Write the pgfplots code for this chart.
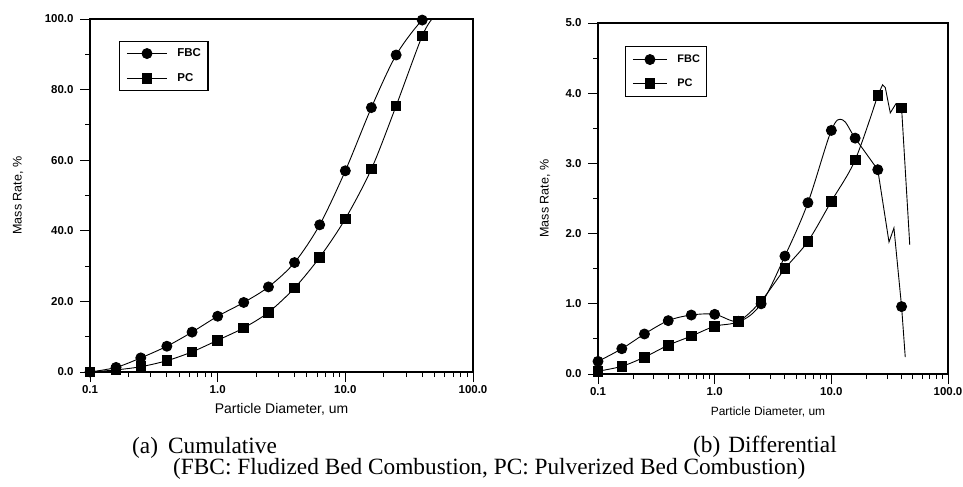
\documentclass[border=0pt]{standalone}
\usepackage{fontspec}
\setmainfont{Liberation Serif}
\setsansfont{Liberation Sans}
\usepackage{pgfplots}
\pgfplotsset{compat=1.18}

% plot styles for the two combustion types
\pgfplotsset{
  fbc/.style={black, line width=0.9bp, mark=*, mark size=5bp,
    mark options={solid, fill=black}},
  pc/.style={black, line width=0.9bp, mark=square*, mark size=4.8bp,
    mark options={solid, fill=black}},
}

\begin{document}
\begin{tikzpicture}[x=1bp, y=1bp]
\path[use as bounding box] (0,0) rectangle (963,-487);

% ---------------- (a) cumulative distribution ----------------
\begin{axis}[
  scale only axis, anchor=south west,
  at={(90bp,-372bp)}, width=383bp, height=353bp,
  xmode=log, log basis x=10, xmin=0.1, xmax=100,
  ymin=0, ymax=100,
  axis line style={line width=1.1bp},
  tick align=outside, xtick pos=left, ytick pos=left,
  major tick length=10bp, minor tick length=5bp,
  every tick/.append style={black, line width=0.9bp},
  xtick={0.1,1,10,100},
  xticklabels={0.1,1.0,10.0,100.0},
  minor xtick={0.2,0.3,0.4,0.5,0.6,0.7,0.8,0.9,2,3,4,5,6,7,8,9,20,30,40,50,60,70,80,90},
  ytick={0,20,40,60,80,100},
  yticklabels={0.0,20.0,40.0,60.0,80.0,100.0},
  minor ytick={10,30,50,70,90},
  ticklabel style={font=\sffamily\bfseries\fontsize{11.5}{13}\selectfont},
  yticklabel style={xshift=-3bp},
  xlabel={Particle Diameter, um},
  ylabel={Mass Rate, \%},
  xlabel style={at={(axis description cs:0.5,0)}, anchor=base, yshift=-41bp,
    font=\sffamily\fontsize{14}{15}\selectfont},
  ylabel style={at={(axis description cs:-0.188,0.5)}, anchor=center,
    font=\sffamily\fontsize{12.6}{14}\selectfont},
  legend cell align=left,
  legend image code/.code={%
    \draw[#1, line width=0.9bp, mark indices={2}]
      plot coordinates {(0bp,0bp) (20bp,0bp) (40bp,0bp)};},
  legend style={at={(axis description cs:0.0757,0.9377)}, anchor=north west,
    draw=black, line width=1.1bp, fill=white,
    font=\sffamily\bfseries\fontsize{11.5}{12}\selectfont,
    inner xsep=7bp, inner ysep=7bp, row sep=15bp, column sep=10bp,
    nodes={inner sep=0bp}},
]
\addplot[fbc, smooth, tension=0.5,
  mark indices={1,2,3,4,5,6,7,8,9,10,11,12,13,14}] coordinates {
  (0.1,0) (0.16,1.3) (0.25,4.0) (0.4,7.3) (0.63,11.3) (1.0,15.8)
  (1.6,19.7) (2.5,24.1) (4.0,31.0) (6.3,41.7) (10,57.0) (16,74.9)
  (25,89.8) (40,99.7) (49,100.5)};
\addlegendentry{FBC}
\addplot[pc, smooth, tension=0.5,
  mark indices={1,2,3,4,5,6,7,8,9,10,11,12,13,14}] coordinates {
  (0.1,0) (0.16,0.6) (0.25,1.5) (0.4,3.2) (0.63,5.7) (1.0,9.0)
  (1.6,12.5) (2.5,16.9) (4.0,23.8) (6.3,32.5) (10,43.4) (16,57.5)
  (25,75.4) (40,95.2) (49,100.5)};
\addlegendentry{PC}
\end{axis}

% ---------------- (b) differential distribution ----------------
\begin{axis}[
  scale only axis, anchor=south west,
  at={(598bp,-374bp)}, width=350bp, height=351bp,
  xmode=log, log basis x=10, xmin=0.1, xmax=100,
  ymin=0, ymax=5,
  axis line style={line width=1.1bp},
  tick align=outside, xtick pos=left, ytick pos=left,
  major tick length=10bp, minor tick length=5bp,
  every tick/.append style={black, line width=0.9bp},
  xtick={0.1,1,10,100},
  xticklabels={0.1,1.0,10.0,100.0},
  minor xtick={0.2,0.3,0.4,0.5,0.6,0.7,0.8,0.9,2,3,4,5,6,7,8,9,20,30,40,50,60,70,80,90},
  ytick={0,1,2,3,4,5},
  yticklabels={0.0,1.0,2.0,3.0,4.0,5.0},
  minor ytick={0.5,1.5,2.5,3.5,4.5},
  ticklabel style={font=\sffamily\bfseries\fontsize{11.5}{13}\selectfont},
  yticklabel style={xshift=-3bp},
  xlabel={Particle Diameter, um},
  ylabel={Mass Rate, \%},
  xlabel style={at={(axis description cs:0.5,0)}, anchor=base, yshift=-41bp,
    xshift=-5bp, font=\sffamily\fontsize{12}{14}\selectfont},
  ylabel style={at={(axis description cs:-0.1514,0.5)}, anchor=center,
    font=\sffamily\fontsize{12.6}{14}\selectfont},
  legend cell align=left,
  legend image code/.code={%
    \draw[#1, line width=0.9bp, mark indices={2}]
      plot coordinates {(0bp,0bp) (17bp,0bp) (34bp,0bp)};},
  legend style={at={(axis description cs:0.077,0.9345)}, anchor=north west,
    draw=black, line width=1.1bp, fill=white,
    font=\sffamily\bfseries\fontsize{11}{12}\selectfont,
    inner xsep=7bp, inner ysep=8bp, row sep=14bp, column sep=10bp,
    nodes={inner sep=0bp}},
]
% the spline of the FBC curve rises to a crest near 12.5 um
\addplot[fbc, smooth, tension=0.55,
  mark indices={1,2,3,4,5,6,7,8,9,10,11,13,14}] coordinates {
  (0.1,0.18) (0.16,0.36) (0.25,0.57) (0.4,0.76) (0.63,0.84) (1.0,0.85)
  (1.6,0.75) (2.5,1.00) (4.0,1.68) (6.3,2.44) (10,3.47) (12.5,3.62)
  (16,3.36) (25,2.91)};
\addlegendentry{FBC}
\addplot[pc, smooth, tension=0.55] coordinates {
  (0.1,0.04) (0.16,0.11) (0.25,0.24) (0.4,0.41) (0.63,0.54) (1.0,0.68)
  (1.6,0.75) (2.5,1.04) (4.0,1.50) (6.3,1.89) (10,2.46) (16,3.05)
  (25,3.97)};
\addlegendentry{PC}
% coarse end of both distributions
\addplot[fbc, forget plot, mark indices={4}] coordinates {
  (25,2.91) (31.2,1.88) (34.4,2.08) (40,0.96) (43,0.24)};
\addplot[pc, forget plot, mark indices={6}] coordinates {
  (25,3.97) (27.5,4.12) (29,4.08) (32,3.72) (35.8,3.85) (40,3.79) (47,1.84)};
\end{axis}

% ---------------- captions ----------------
\node[anchor=base west, inner sep=0pt, font=\fontsize{23.4}{25}\selectfont]
  at (132,-453) {(a)\hspace{10bp}Cumulative};
\node[anchor=base west, inner sep=0pt, font=\fontsize{23.4}{25}\selectfont]
  at (693,-452.5) {(b)\hspace{8bp}Differential};
\node[anchor=base west, inner sep=0pt, font=\fontsize{23.4}{25}\selectfont]
  at (173,-474) {(FBC: Fludized Bed Combustion, PC: Pulverized Bed Combustion)};
\end{tikzpicture}
\end{document}
